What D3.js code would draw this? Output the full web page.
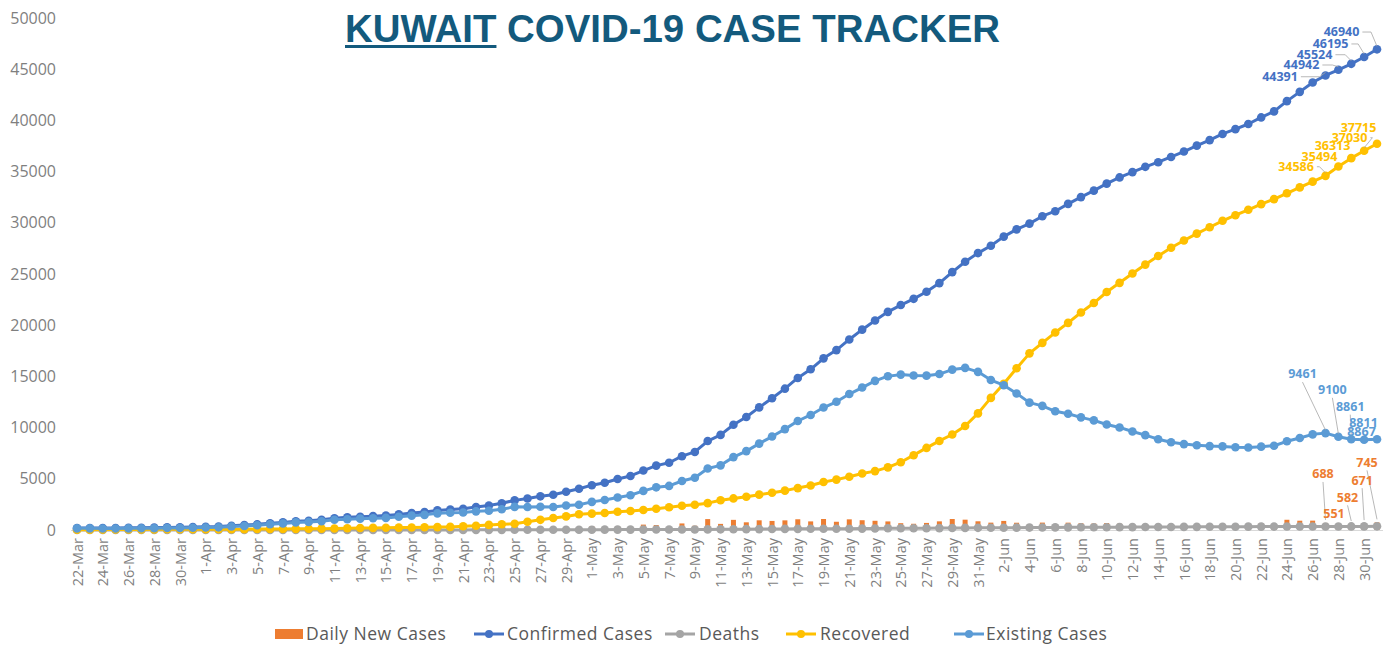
<!DOCTYPE html>
<html><head><meta charset="utf-8">
<script src="https://cdn.jsdelivr.net/npm/d3@7"></script>
<style>body{margin:0;background:#fff;} svg{display:block;font-family:"Open Sans",sans-serif;}</style>
</head><body><svg id="c" width="1391" height="645"></svg>
<script>
const dates = ["22-Mar","23-Mar","24-Mar","25-Mar","26-Mar","27-Mar","28-Mar","29-Mar","30-Mar","31-Mar",
"1-Apr","2-Apr","3-Apr","4-Apr","5-Apr","6-Apr","7-Apr","8-Apr","9-Apr","10-Apr",
"11-Apr","12-Apr","13-Apr","14-Apr","15-Apr","16-Apr","17-Apr","18-Apr","19-Apr","20-Apr",
"21-Apr","22-Apr","23-Apr","24-Apr","25-Apr","26-Apr","27-Apr","28-Apr","29-Apr","30-Apr",
"1-May","2-May","3-May","4-May","5-May","6-May","7-May","8-May","9-May","10-May",
"11-May","12-May","13-May","14-May","15-May","16-May","17-May","18-May","19-May","20-May",
"21-May","22-May","23-May","24-May","25-May","26-May","27-May","28-May","29-May","30-May",
"31-May","1-Jun","2-Jun","3-Jun","4-Jun","5-Jun","6-Jun","7-Jun","8-Jun","9-Jun",
"10-Jun","11-Jun","12-Jun","13-Jun","14-Jun","15-Jun","16-Jun","17-Jun","18-Jun","19-Jun",
"20-Jun","21-Jun","22-Jun","23-Jun","24-Jun","25-Jun","26-Jun","27-Jun","28-Jun","29-Jun",
"30-Jun","1-Jul"];
const dailyNew = [12,1,2,4,13,17,10,20,11,23, 28,25,75,62,77,109,78,112,55,83,
161,80,66,55,50,119,134,93,164,80, 85,168,151,215,278,183,213,152,300,284,
353,242,364,295,526,485,278,641,415,1065, 598,991,751,947,885,942,1048,841,1073,804,
1041,955,900,838,665,608,692,845,1072,1008, 851,719,887,710,562,723,487,717,662,630,
683,609,520,514,454,511,527,575,541,604, 467,505,641,589,999,909,915,688,551,582,
671,745];
const confirmed = [188,189,191,195,208,225,235,255,266,289, 317,342,417,479,556,665,743,855,910,993,
1154,1234,1300,1355,1405,1524,1658,1751,1915,1995, 2080,2248,2399,2614,2892,3075,3288,3440,3740,4024,
4377,4619,4983,5278,5804,6289,6567,7208,7623,8688, 9286,10277,11028,11975,12860,13802,14850,15691,16764,17568,
18609,19564,20464,21302,21967,22575,23267,24112,25184,26192, 27043,27762,28649,29359,29921,30644,31131,31848,32510,33140,
33823,34432,34952,35466,35920,36431,36958,37533,38074,38678, 39145,39650,40291,40880,41879,42788,43703,44391,44942,45524,
46195,46940];
const deaths = [0,0,0,0,0,0,0,0,0,0, 0,0,0,1,1,1,1,1,1,1,
1,1,2,3,3,3,5,6,7,9, 11,13,14,15,19,20,22,23,24,26,
30,33,38,38,40,42,44,47,49,58, 65,75,82,88,96,107,112,118,121,124,
129,138,148,165,172,175,178,185,194,205, 212,220,226,230,236,244,254,260,269,273,
275,279,284,286,293,298,303,308,313,320, 324,326,330,334,337,339,341,344,348,350,
354,358];
const recovered = [27,30,41,43,49,57,64,67,72,72, 72,81,82,85,93,99,102,111,123,133,
150,176,189,206,220,233,250,268,282,305, 364,414,498,566,613,806,993,1176,1328,1539,
1602,1653,1776,1849,1947,2080,2218,2375,2466,2621, 2907,3084,3240,3451,3640,3843,4093,4339,4681,4921,
5205,5515,5750,6117,6621,7306,8016,8698,9325,10156, 11386,12899,14281,15792,17249,18277,19282,20229,21242,22162,
23242,24137,25048,25918,26759,27560,28266,28946,29567,30193, 30742,31269,31821,32315,32880,33459,34020,34586,35494,36313,
37030,37715];
const existing = [161,159,150,152,159,168,171,188,194,217, 245,261,335,393,462,565,640,743,786,859,
1003,1057,1109,1146,1182,1288,1403,1477,1626,1681, 1705,1821,1887,2033,2260,2249,2273,2241,2388,2459,
2745,2933,3169,3391,3817,4167,4305,4786,5108,6009, 6314,7118,7706,8436,9124,9852,10645,11234,11962,12523,
13275,13911,14566,15020,15174,15094,15073,15229,15665,15831, 15445,14643,14142,13337,12436,12123,11595,11359,10999,10705,
10306,10016,9620,9262,8868,8573,8389,8279,8194,8165, 8079,8055,8140,8231,8662,8990,9342,9461,9100,8861,
8811,8867];
const yTicks = [0,5000,10000,15000,20000,25000,30000,35000,40000,45000,50000];
const xTickLabels = dates.filter((d,i)=>i%2===0);
const seriesNames = ["Daily New Cases","Confirmed Cases","Deaths","Recovered","Existing Cases"];

const colors = {daily:"#ED7D31", confirmed:"#4472C4", deaths:"#A5A5A5", recovered:"#FFC000", existing:"#5B9BD5"};

const svg = d3.select("#c");
const x = d3.scalePoint().domain(dates).range([77,1377]);
const y = d3.scaleLinear().domain([0,50000]).range([530,18]);

// Title
const title = svg.append("text").attr("x",345).attr("y",42)
  .attr("font-family","'Liberation Sans',Arial,sans-serif").attr("font-weight","bold")
  .attr("font-size",39).attr("fill","#135a7d")
  .attr("textLength",655).attr("lengthAdjust","spacingAndGlyphs");
title.append("tspan").text("KUWAIT");
title.append("tspan").text(" COVID-19 CASE TRACKER");
const tnode = title.node();
const uEnd = tnode.getEndPositionOfChar(5).x;
svg.append("rect").attr("x",345).attr("y",45).attr("width",uEnd-345).attr("height",3).attr("fill","#135a7d");

// Y axis
const yAxis = svg.append("g").attr("transform","translate(56,0)")
  .call(d3.axisLeft(y).tickValues(yTicks).tickSize(0).tickPadding(0).tickFormat(d3.format("d")));
yAxis.select(".domain").remove();
yAxis.selectAll("text").attr("font-size",16).attr("fill","#7f7f7f").attr("font-family","'Open Sans',sans-serif");

// X axis
const xAxis = svg.append("g").attr("transform","translate(0,530)")
  .call(d3.axisBottom(x).tickValues(xTickLabels).tickSize(0));
xAxis.select(".domain").remove();
xAxis.selectAll("text").attr("font-size",14.5).attr("fill","#7f7f7f").attr("font-family","'Open Sans',sans-serif")
  .attr("text-anchor","end").attr("transform","translate(0,8) rotate(-90)").attr("x",0).attr("y",0).attr("dy","0.35em");
svg.append("line").attr("x1",x(dates[0])-6).attr("x2",x(dates[dates.length-1])+6)
  .attr("y1",y(0)+0.5).attr("y2",y(0)+0.5).attr("stroke","#d9d9d9").attr("stroke-width",1);

// Bars
const barW = 5;
svg.append("g").selectAll("rect").data(dailyNew).join("rect")
  .attr("x",(d,i)=>x(dates[i])-barW/2).attr("y",d=>y(d)).attr("width",barW)
  .attr("height",d=>y(0)-y(d)).attr("fill",colors.daily);

function drawSeries(vals, color){
  const g = svg.append("g");
  const line = d3.line().x((d,i)=>x(dates[i])).y(d=>y(d));
  g.append("path").datum(vals).attr("d",line).attr("fill","none").attr("stroke",color)
    .attr("stroke-width",3).attr("stroke-linejoin","round");
  g.selectAll("circle").data(vals).join("circle")
    .attr("cx",(d,i)=>x(dates[i])).attr("cy",d=>y(d)).attr("r",4.3).attr("fill",color);
}
drawSeries(confirmed, colors.confirmed);
drawSeries(deaths, colors.deaths);
drawSeries(recovered, colors.recovered);
drawSeries(existing, colors.existing);

// Data labels (last 5 days)
const series = {daily:dailyNew, confirmed, recovered, existing};
const labelDefs = [
  {s:"confirmed", i:101, dx:-35.5, dy:-17.3, leader:"right"},
  {s:"confirmed", i:100, dx:-33.6, dy:-13, leader:"right"},
  {s:"confirmed", i:99, dx:-36.7, dy:-9.1, leader:"right"},
  {s:"confirmed", i:98, dx:-36.9, dy:-4.8, leader:"right"},
  {s:"confirmed", i:97, dx:-45.5, dy:1.3, leader:"right"},
  {s:"recovered", i:101, dx:-18.5, dy:-16, leader:null},
  {s:"recovered", i:100, dx:-14.6, dy:-13.1, leader:"right"},
  {s:"recovered", i:99, dx:-18.7, dy:-12.5, leader:null},
  {s:"recovered", i:98, dx:-18.9, dy:-9.8, leader:null},
  {s:"recovered", i:97, dx:-29.5, dy:-9.1, leader:"right"},
  {s:"existing", i:97, dx:-23, dy:-59, leader:"below"},
  {s:"existing", i:98, dx:-6, dy:-47, leader:"below"},
  {s:"existing", i:99, dx:-1, dy:-32.6, leader:"below"},
  {s:"existing", i:100, dx:-0.6, dy:-17, leader:null},
  {s:"existing", i:101, dx:-15.5, dy:-7.5, leader:null},
  {s:"daily", i:101, dx:-10, dy:-60, leader:"below"},
  {s:"daily", i:100, dx:-2, dy:-43, leader:"below"},
  {s:"daily", i:99, dx:-3.7, dy:-26.7, leader:"below"},
  {s:"daily", i:98, dx:-4.4, dy:-11, leader:null},
  {s:"daily", i:97, dx:-2.5, dy:-49, leader:"below"}
];
const lg = svg.append("g");
const tg = svg.append("g");
labelDefs.forEach(l=>{
  const v = series[l.s][l.i];
  const px = x(dates[l.i]), py = y(v);
  const tx = px + l.dx, ty = py + l.dy;
  const t = tg.append("text").attr("x",tx).attr("y",ty).attr("dy","0.35em")
    .attr("text-anchor","middle").attr("font-size",12.5).attr("font-weight",700)
    .attr("font-family","'Open Sans',sans-serif").attr("fill",colors[l.s]).text(v);
  const w = t.node().getComputedTextLength();
  let pts = null;
  if(l.leader==="right"){
    const sx = tx + w/2 + 3;
    const hx = Math.max(sx+2, px-6);
    pts = [[sx,ty],[hx,ty],[px,py-3]];
  } else if(l.leader==="below"){
    pts = [[tx,ty+8],[px,py-3]];
  }
  if(pts){
    lg.append("polyline").attr("points",pts.map(p=>p.join(",")).join(" "))
      .attr("fill","none").attr("stroke","#a6a6a6").attr("stroke-width",0.8);
  }
});

// Legend
const legend = svg.append("g").attr("font-family","'Open Sans',sans-serif").attr("font-size",17.5)
  .attr("letter-spacing","0.5px").attr("fill","#595959");
const legItems = [
  {name:seriesNames[0], key:"daily", type:"bar", mx:275, tx:306},
  {name:seriesNames[1], key:"confirmed", type:"line", mx:474, tx:507},
  {name:seriesNames[2], key:"deaths", type:"line", mx:665, tx:699},
  {name:seriesNames[3], key:"recovered", type:"line", mx:786, tx:820},
  {name:seriesNames[4], key:"existing", type:"line", mx:954, tx:986}
];
const ly = 634;
legItems.forEach(it=>{
  if(it.type==="bar"){
    legend.append("rect").attr("x",it.mx).attr("y",ly-5).attr("width",28).attr("height",10).attr("fill",colors[it.key]);
  } else {
    legend.append("line").attr("x1",it.mx).attr("x2",it.mx+30).attr("y1",ly).attr("y2",ly)
      .attr("stroke",colors[it.key]).attr("stroke-width",3);
    legend.append("circle").attr("cx",it.mx+15).attr("cy",ly).attr("r",4).attr("fill",colors[it.key]);
  }
  legend.append("text").attr("x",it.tx).attr("y",ly).attr("dy","0.35em").text(it.name);
});
</script></body></html>
